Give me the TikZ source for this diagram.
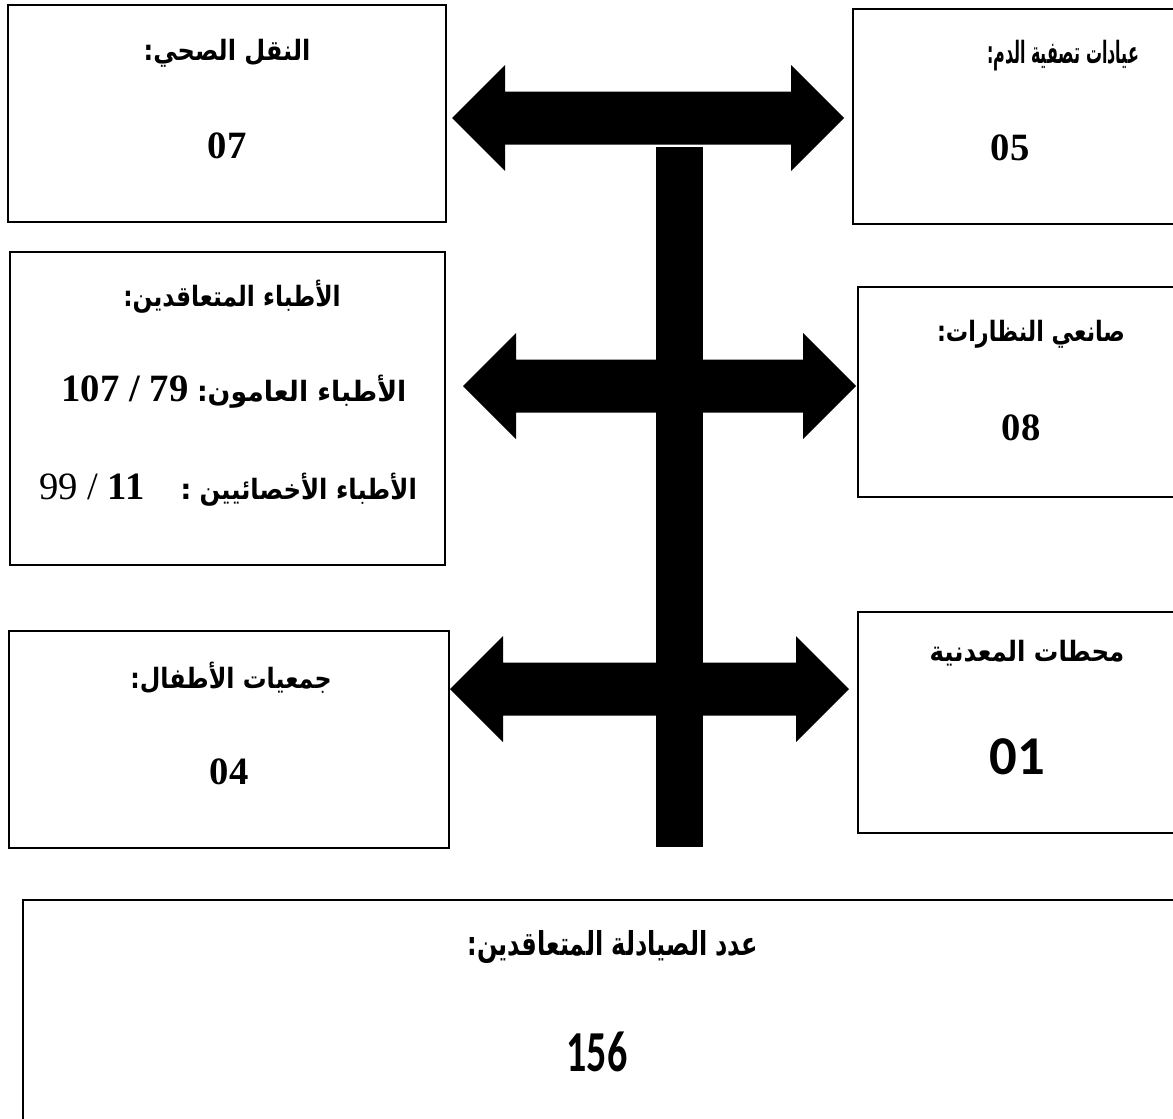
\documentclass[tikz,border=0pt]{standalone}
\usepackage{fontspec}
\usepackage{graphicx}
\TeXXeTstate=1
\newfontfamily\arabicfont[Script=Arabic]{DejaVu Sans}
\newfontfamily\numfont{Liberation Serif}
\newfontfamily\calfont{Carlito}
% squeeze a box to a given width (in pt), keeping its height
\newcommand{\sq}[2]{\resizebox{#1}{\height}{#2}}
\newcommand{\blockarrow}[3]{%
  \fill[black] (#1,#3) -- ++(53,-53) -- ++(0,26.5) -- (#2-53,#3-26.5) -- ++(0,-26.5)
    -- (#2,#3) -- ++(-53,53) -- ++(0,-26.5) -- (#1+53,#3+26.5) -- ++(0,26.5) -- cycle;}
\begin{document}
\begin{tikzpicture}[x=0.75pt,y=-0.75pt,
  box/.style={draw=black,line width=1.5pt},
  ttl/.style={font=\arabicfont\bfseries\fontsize{21}{25}\selectfont, inner sep=0pt},
  num/.style={font=\numfont\bfseries\fontsize{29}{34}\selectfont, inner sep=0pt},
  cal/.style={font=\calfont\bfseries\fontsize{41}{48}\selectfont, inner sep=0pt}]
\useasboundingbox (0,0) rectangle (1173,1118);
\fill[white] (0,0) rectangle (1173,1118);
\clip (0,0) rectangle (1173,1118);
% boxes
\draw[box] (8,5) rectangle (446,222);
\draw[box] (853,9) rectangle (1195,224);
\draw[box] (10,252) rectangle (445,565);
\draw[box] (858,287) rectangle (1195,497);
\draw[box] (9,631) rectangle (449,848);
\draw[box] (858,612) rectangle (1195,833);
\draw[box] (23,900) rectangle (1195,1135);
% arrows
\blockarrow{452}{844}{118}
\blockarrow{463}{856}{386}
\blockarrow{450}{849}{689}
\fill[black] (656,147) rectangle (703,847);
% texts
\node[ttl] (t1) at (227,53) {\sq{125pt}{\beginR النقل الصحي:\endR}};
\node[num] (n1) at (227,146) {07};
\node[ttl,font=\arabicfont\bfseries\fontsize{23}{27}\selectfont] (t2) at (1063,56) {\sq{114pt}{\beginR عيادات تصفية الدم:\endR}};
\node[num] (n2) at (1010,148) {05};
\node[ttl] (t3) at (232,297) {\sq{163pt}{\beginR الأطباء المتعاقدين:\endR}};
\node[ttl] (l1) at (234,392) {{\numfont\fontsize{29}{34}\selectfont 107 / 79}\hspace{6.5pt}\sq{157pt}{\beginR الأطباء العامون:\endR}};
\node[ttl] (l2) at (228,490) {{\numfont\fontsize{29}{34}\selectfont\mdseries 99 / \bfseries 11}\hspace{27pt}:\hspace{6pt}\sq{163pt}{\beginR الأطباء الأخصائيين\endR}};
\node[ttl] (t4) at (1031,334) {\sq{141pt}{\beginR صانعي النظارات:\endR}};
\node[num] (n4) at (1021,428) {08};
\node[ttl] (t5) at (231,678) {\sq{151pt}{\beginR جمعيات الأطفال:\endR}};
\node[num] (n5) at (229,772) {04};
\node[ttl] (t6) at (1027,653) {\sq{146pt}{\beginR محطات المعدنية\endR}};
\node[cal] (n6) at (1017,757) {01};
\node[inner sep=0pt] (t7) at (613,947) {\scalebox{1}[1.3]{\arabicfont\bfseries\fontsize{19}{23}\selectfont\sq{218pt}{\beginR عدد الصيادلة المتعاقدين:\endR}}};
\node[inner sep=0pt] (n7) at (597,1052) {\scalebox{1}[1.45]{\calfont\bfseries\fontsize{30}{36}\selectfont 156}};
\end{tikzpicture}
\end{document}
